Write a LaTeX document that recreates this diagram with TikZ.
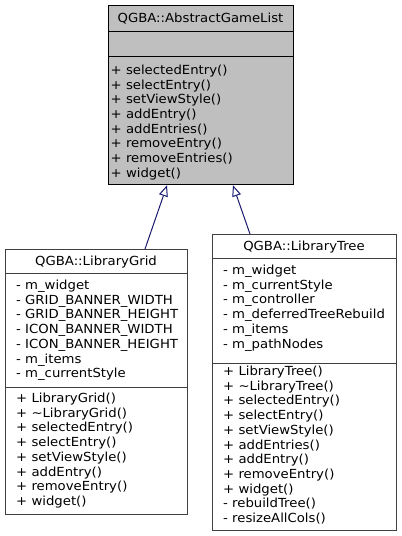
\documentclass[tikz,border=0pt]{standalone}
\usepackage{fontspec}
\setmainfont[FakeStretch=1.06]{DejaVu Sans}
\usetikzlibrary{arrows.meta}

\definecolor{edgeblue}{HTML}{191970}
\definecolor{boxgray}{HTML}{BFBFBF}
\definecolor{bordergray}{HTML}{404040}

\tikzset{
  classbox/.style={draw=bordergray, line width=1.3pt, fill=white, inner sep=0pt, anchor=north west},
  basebox/.style={classbox, draw=black, fill=boxgray},
  sepline/.style={draw=bordergray, line width=0.9pt},
  titletext/.style={inner sep=0pt, anchor=base, font=\fontsize{12.5}{14.7}\selectfont},
  membertext/.style={inner sep=0pt, anchor=north west, align=left, font=\fontsize{12.5}{14.7}\selectfont},
  inherit/.style={draw=edgeblue, line width=1pt, -{Triangle[open, length=11pt, width=9pt, fill=white]}},
}

\begin{document}
\begin{tikzpicture}[x=1pt,y=-1pt]
\useasboundingbox[fill=white] (0,0) rectangle (402,536);

% base class
\node[basebox, minimum width=185pt, minimum height=179pt] (base) at (108,5) {};
\draw[sepline, draw=black] ([yshift=-26pt]base.north west) -- ([yshift=-26pt]base.north east);
\draw[sepline, draw=black] ([yshift=-51pt]base.north west) -- ([yshift=-51pt]base.north east);
\node[titletext] (basetitle) at (200.5,22.6) {QGBA::AbstractGameList};
\node[membertext] (basemeth) at (110.5,64.6) {+ selectedEntry()\\+ selectEntry()\\+ setViewStyle()\\+ addEntry()\\+ addEntries()\\+ removeEntry()\\+ removeEntries()\\+ widget()};

% LibraryGrid
\node[classbox, minimum width=182pt, minimum height=265pt] (grid) at (5,249) {};
\draw[sepline] ([yshift=-24pt]grid.north west) -- ([yshift=-24pt]grid.north east);
\draw[sepline] ([yshift=-138pt]grid.north west) -- ([yshift=-138pt]grid.north east);
\node[titletext] (gridtitle) at (96,265.6) {QGBA::LibraryGrid};
\node[membertext] (gridattr) at (16,279.8) {- m\_widget\\- GRID\_BANNER\_WIDTH\\- GRID\_BANNER\_HEIGHT\\- ICON\_BANNER\_WIDTH\\- ICON\_BANNER\_HEIGHT\\- m\_items\\- m\_currentStyle};
\node[membertext] (gridmeth) at (16,392.8) {+ LibraryGrid()\\+ \textasciitilde LibraryGrid()\\+ selectedEntry()\\+ selectEntry()\\+ setViewStyle()\\+ addEntry()\\+ removeEntry()\\+ widget()};

% LibraryTree
\node[classbox, minimum width=184pt, minimum height=296pt] (tree) at (212,234) {};
\draw[sepline] ([yshift=-24pt]tree.north west) -- ([yshift=-24pt]tree.north east);
\draw[sepline] ([yshift=-129pt]tree.north west) -- ([yshift=-129pt]tree.north east);
\node[titletext] (treetitle) at (304,250.6) {QGBA::LibraryTree};
\node[membertext] (treeattr) at (223,264.8) {- m\_widget\\- m\_currentStyle\\- m\_controller\\- m\_deferredTreeRebuild\\- m\_items\\- m\_pathNodes};
\node[membertext] (treemeth) at (223,365.8) {+ LibraryTree()\\+ \textasciitilde LibraryTree()\\+ selectedEntry()\\+ selectEntry()\\+ setViewStyle()\\+ addEntries()\\+ addEntry()\\+ removeEntry()\\+ widget()\\- rebuildTree()\\- resizeAllCols()};

% inheritance
\draw[inherit] ([xshift=140pt]grid.north west) -- ([xshift=59pt]base.south west);
\draw[inherit] ([xshift=38pt]tree.north west) -- ([xshift=125pt]base.south west);
\end{tikzpicture}
\end{document}
